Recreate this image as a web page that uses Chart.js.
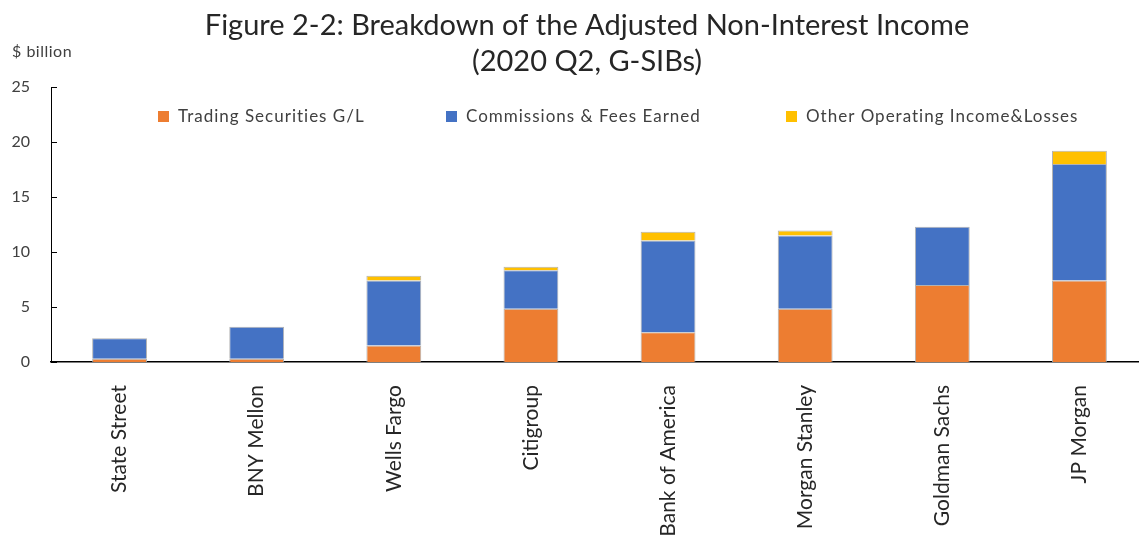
<!DOCTYPE html>
<html>
<head>
<meta charset="utf-8">
<script src="https://cdn.jsdelivr.net/npm/chart.js@4.4.1/dist/chart.umd.min.js"></script>
<style>
  html, body { margin: 0; padding: 0; background: #fff; overflow: hidden; }
  #wrap { width: 1139px; height: 537px; overflow: hidden; }
  canvas { display: block; }
</style>
</head>
<body>
<div id="wrap"><canvas id="c" width="1148" height="537"></canvas></div>
<script>
const titleLines = ["Figure 2-2: Breakdown of the Adjusted Non-Interest Income", "(2020 Q2, G-SIBs)"];
const unitLabel = "$ billion";
const categories = ["State Street", "BNY Mellon", "Wells Fargo", "Citigroup", "Bank of America", "Morgan Stanley", "Goldman Sachs", "JP Morgan"];
const seriesNames = ["Trading Securities G/L", "Commissions & Fees Earned", "Other Operating Income&Losses"];
const tradingGL = [0.3, 0.3, 1.5, 4.85, 2.7, 4.85, 7.0, 7.4];
const commissionsFees = [1.85, 2.9, 5.9, 3.5, 8.35, 6.65, 5.3, 10.6];
const otherOperating = [0, 0, 0.45, 0.3, 0.8, 0.45, 0, 1.2];
const yTicks = [0, 5, 10, 15, 20, 25];

const FONT = "Lato, 'Open Sans', sans-serif";
const colors = ["#ED7D31", "#4472C4", "#FFC000"];

const decor = {
  id: 'decor',
  afterDraw(chart) {
    const ctx = chart.ctx;
    const y = chart.scales.y;
    const area = chart.chartArea;
    ctx.save();
    // inward tick marks on y axis
    ctx.strokeStyle = '#000';
    ctx.lineWidth = 1;
    yTicks.forEach(v => {
      const py = Math.round(y.getPixelForValue(v)) + 0.5;
      ctx.beginPath();
      ctx.moveTo(area.left, py);
      ctx.lineTo(area.left + 6, py);
      ctx.stroke();
    });
    // title
    ctx.fillStyle = '#262626';
    ctx.textAlign = 'center';
    ctx.textBaseline = 'middle';
    ctx.font = "29px " + FONT;
    ctx.fillText(titleLines[0], 587, 26);
    ctx.fillText(titleLines[1], 587, 62);
    // unit label
    ctx.textAlign = 'left';
    ctx.fillStyle = '#404040';
    ctx.font = "16px " + FONT;
    ctx.letterSpacing = '0.5px';
    ctx.fillText(unitLabel, 12, 52);
    // legend
    const lx = [158, 446, 786];
    ctx.font = "17px " + FONT;
    ctx.letterSpacing = '1px';
    chart.data.datasets.forEach((ds, i) => {
      ctx.fillStyle = ds.backgroundColor;
      ctx.fillRect(lx[i], 111, 11, 11);
      ctx.fillStyle = '#404040';
      ctx.fillText(ds.label, lx[i] + 20, 116.5);
    });
    ctx.letterSpacing = '0px';
    ctx.restore();
  }
};

new Chart(document.getElementById('c'), {
  type: 'bar',
  data: {
    labels: categories,
    datasets: [
      { label: seriesNames[0], data: tradingGL, backgroundColor: colors[0] },
      { label: seriesNames[1], data: commissionsFees, backgroundColor: colors[1] },
      { label: seriesNames[2], data: otherOperating, backgroundColor: colors[2] }
    ].map(d => Object.assign(d, { borderColor: 'rgba(170,170,170,0.9)', borderWidth: 1, barPercentage: 0.4, categoryPercentage: 1.0 }))
  },
  options: {
    responsive: false,
    animation: false,
    layout: { padding: { top: 87, right: 0, bottom: 0, left: 0 } },
    plugins: {
      legend: { display: false },
      title: { display: false },
      tooltip: { enabled: false }
    },
    scales: {
      x: {
        stacked: true,
        grid: { display: false, drawTicks: false },
        border: { display: true, color: '#000', width: 1.5 },
        ticks: { maxRotation: 90, minRotation: 90, padding: 23, color: '#262626', font: { family: FONT, size: 21 } },
        afterFit(s) { s.height = 175; }
      },
      y: {
        stacked: true,
        min: 0, max: 25,
        afterBuildTicks(s) { s.ticks = yTicks.map(v => ({ value: v })); },
        grid: { display: false, drawTicks: false },
        border: { display: true, color: '#000', width: 1 },
        ticks: { padding: 21, color: '#404040', font: { family: FONT, size: 16 } },
        afterFit(s) { s.width = 51; }
      }
    }
  },
  plugins: [decor]
});
</script>
</body>
</html>
